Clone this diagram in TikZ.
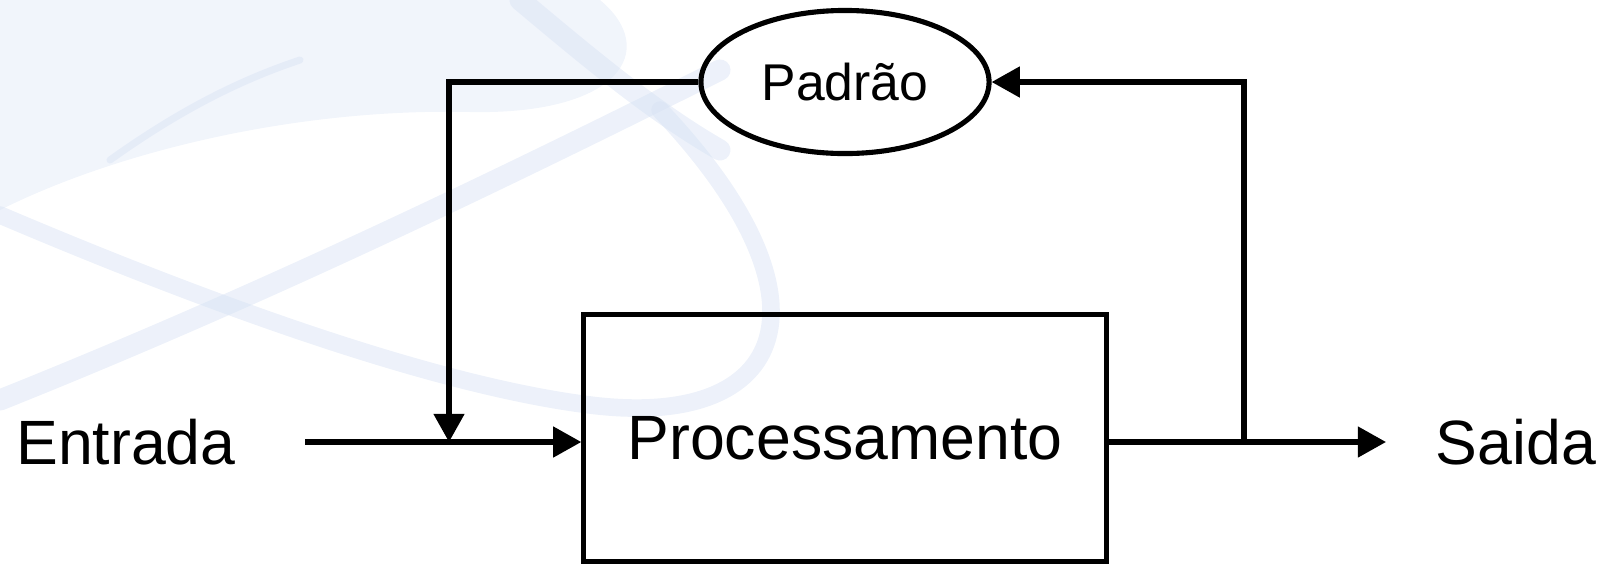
\documentclass[tikz,border=0pt]{standalone}
\usepackage{fontspec}
\setmainfont{Liberation Sans}
\usetikzlibrary{shapes.geometric,arrows.meta}
\definecolor{wm}{RGB}{214,225,243}
\tikzset{
  conn/.style={line width=1.45pt,-{Triangle[length=8pt,width=8.5pt]}},
  plain/.style={line width=1.45pt},
  bigtext/.style={inner sep=0pt,font=\fontsize{17.8}{20}\selectfont},
  wmband/.style={draw=wm,line cap=round,opacity=0.45}
}
\begin{document}
\begin{tikzpicture}[x=0.01cm,y=-0.01cm]
\useasboundingbox (0,0) rectangle (1606,563);
% faint background watermark
\fill[wm,opacity=0.35] (0,0) -- (600,0) .. controls (660,50) and (620,115) .. (470,112)
   .. controls (300,108) and (120,150) .. (0,210) -- cycle;
\draw[wmband,line width=6pt] (0,400) .. controls (250,300) and (480,190) .. (720,70);
\draw[wmband,line width=5pt] (0,215) .. controls (200,300) and (430,385) .. (590,405)
   .. controls (790,430) and (840,300) .. (660,110);
\draw[wmband,line width=6pt] (520,0) .. controls (580,50) and (650,110) .. (720,150);
\draw[wmband,line width=2pt] (110,160) .. controls (180,110) and (240,80) .. (300,60);
% nodes
\node[draw,line width=1.45pt,ellipse,minimum width=2.88cm,minimum height=1.43cm,inner sep=0pt,
      font=\fontsize{14.7}{17}\selectfont] (pad) at (845,82) {Padrão};
\node[draw,line width=1.45pt,minimum width=5.22cm,minimum height=2.46cm,inner sep=0pt,bigtext] (proc) at (845,438) {Processamento};
\node[bigtext] (ent) at (126,442) {Entrada};
\node[bigtext] (sai) at (1516,442) {Saida};
% connector points
\coordinate (inA) at (305,442);
\coordinate (j1) at (449,442);
\coordinate (outA) at (1107,442);
\coordinate (j2) at (1244,442);
\coordinate (outB) at (1386,442);
% connectors
\draw[conn] (inA) -- (inA -| proc.west);
\draw[conn] (pad.west) -| (j1);
\draw[plain] (outA) -- (j2);
\draw[conn] (j2) -- (outB);
\draw[conn] (j2) |- (pad.east);
\end{tikzpicture}
\end{document}
